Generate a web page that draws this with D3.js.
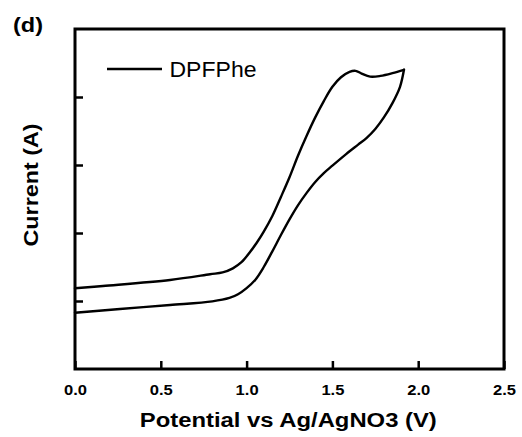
<!DOCTYPE html>
<html><head><meta charset="utf-8">
<script src="https://cdn.jsdelivr.net/npm/d3@7"></script>
<style>
html,body{margin:0;padding:0;background:#fff;}
svg{display:block;font-family:"Liberation Sans",Arial,sans-serif;}
</style></head>
<body>
<svg id="c" width="522" height="437"></svg>
<script>
// Potential (V) and current (arb. units) — forward (upper) branch, 0 V -> vertex
const forwardPotential = [0, 0.163, 0.554, 0.787, 0.86, 0.92, 0.97, 1.02, 1.06, 1.10, 1.15, 1.20, 1.25, 1.30, 1.35, 1.40, 1.45, 1.50, 1.55, 1.60, 1.635, 1.67, 1.72, 1.78, 1.85, 1.917];
const forwardCurrent   = [1.187, 1.221, 1.309, 1.393, 1.42, 1.48, 1.57, 1.72, 1.86, 2.02, 2.25, 2.53, 2.82, 3.14, 3.43, 3.70, 3.94, 4.15, 4.29, 4.37, 4.385, 4.345, 4.30, 4.31, 4.35, 4.40];
// reverse (lower) branch, vertex -> 0 V
const reversePotential = [1.917, 1.894, 1.85, 1.80, 1.75, 1.70, 1.65, 1.58, 1.50, 1.45, 1.40, 1.35, 1.30, 1.25, 1.20, 1.15, 1.10, 1.05, 1.00, 0.95, 0.90, 0.80, 0.554, 0.262, 0];
const reverseCurrent   = [4.40, 4.15, 3.91, 3.70, 3.53, 3.40, 3.30, 3.16, 2.99, 2.88, 2.75, 2.59, 2.41, 2.20, 1.97, 1.73, 1.50, 1.31, 1.19, 1.10, 1.045, 0.995, 0.941, 0.882, 0.828];
const xTicks = [0, 0.5, 1.0, 1.5, 2.0, 2.5];
const yTicks = [1, 2, 3, 4];
const seriesName = "DPFPhe";

const svg = d3.select("#c");
const L = 75, R = 504, T = 29, B = 369;
const x = d3.scaleLinear().domain([0, 2.5]).range([L, R]);
const y = d3.scaleLinear().domain([0, 5]).range([B, T]);

const fwd = forwardPotential.map((v, i) => [v, forwardCurrent[i]]);
const rev = reversePotential.map((v, i) => [v, reverseCurrent[i]]);
const line = d3.line().x(d => x(d[0])).y(d => y(d[1])).curve(d3.curveCatmullRom.alpha(0.5));

[fwd, rev].forEach(data => {
  svg.append("path").attr("d", line(data)).attr("fill", "none")
    .attr("stroke", "#000").attr("stroke-width", 2.4)
    .attr("stroke-linejoin", "round").attr("stroke-linecap", "round");
});

// axes
const xAxis = svg.append("g").attr("transform", `translate(0,${B})`)
  .call(d3.axisBottom(x).tickValues(xTicks).tickFormat(d3.format(".1f")).tickSizeInner(-8).tickSizeOuter(0));
xAxis.select(".domain").remove();
xAxis.selectAll(".tick line").attr("stroke", "#000").attr("stroke-width", 2.5);
xAxis.selectAll(".tick text").attr("y", 26).attr("dy", null)
  .attr("font-size", 14).attr("font-weight", "bold").attr("fill", "#000")
  .attr("textLength", 23).attr("lengthAdjust", "spacingAndGlyphs")
  .attr("font-family", "'Liberation Sans', Arial, sans-serif");

const yAxis = svg.append("g").attr("transform", `translate(${L},0)`)
  .call(d3.axisLeft(y).tickValues(yTicks).tickFormat("").tickSizeInner(-8).tickSizeOuter(0));
yAxis.select(".domain").remove();
yAxis.selectAll(".tick line").attr("stroke", "#000").attr("stroke-width", 2.5);

// frame
svg.append("rect").attr("x", L).attr("y", T).attr("width", R - L).attr("height", B - T)
  .attr("fill", "none").attr("stroke", "#000").attr("stroke-width", 3);

// titles
svg.append("text").attr("x", 288.3).attr("y", 426.5).attr("text-anchor", "middle")
  .attr("font-size", 20).attr("font-weight", "bold")
  .attr("textLength", 297).attr("lengthAdjust", "spacingAndGlyphs")
  .text("Potential vs Ag/AgNO3 (V)");

svg.append("text").attr("transform", "translate(38,185) rotate(-90)").attr("text-anchor", "middle")
  .attr("font-size", 21).attr("font-weight", "bold")
  .attr("textLength", 123).attr("lengthAdjust", "spacingAndGlyphs")
  .text("Current (A)");

svg.append("text").attr("x", 13).attr("y", 32).attr("font-size", 20).attr("font-weight", "bold")
  .attr("textLength", 30).attr("lengthAdjust", "spacingAndGlyphs").text("(d)");

// legend
svg.append("line").attr("x1", 107).attr("x2", 162).attr("y1", 69).attr("y2", 69)
  .attr("stroke", "#000").attr("stroke-width", 2.4);
svg.append("text").attr("x", 169.5).attr("y", 77.3).attr("font-size", 22)
  .attr("textLength", 87).attr("lengthAdjust", "spacingAndGlyphs").text(seriesName);
</script>
</body></html>
